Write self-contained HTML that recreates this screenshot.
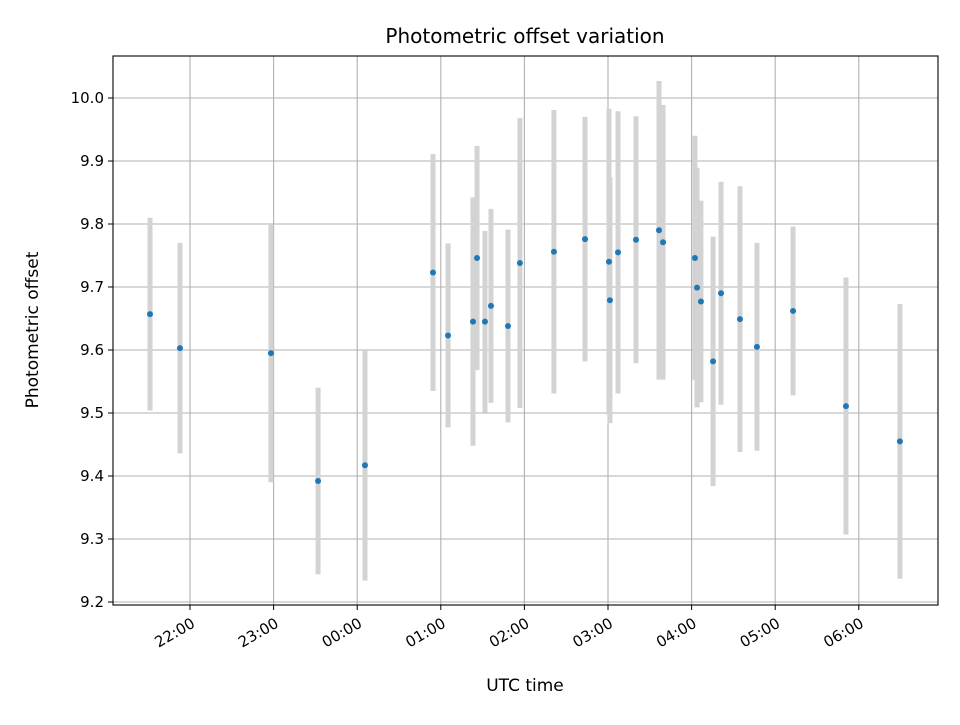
<!DOCTYPE html>
<html><head><meta charset="utf-8"><style>
body{margin:0;background:#fff}
svg{font-family:"DejaVu Sans","Liberation Sans",sans-serif}
</style></head><body>
<svg id="chart" width="960" height="720" xmlns="http://www.w3.org/2000/svg">
<rect width="960" height="720" fill="#fff"/>
<text x="525" y="43" text-anchor="middle" font-size="20">Photometric offset variation</text>
<text x="525" y="691" text-anchor="middle" font-size="17">UTC time</text>
<text transform="translate(38,330) rotate(-90)" text-anchor="middle" font-size="17">Photometric offset</text>
<g id="grid"></g><g id="bars"></g><g id="pts"></g><g id="axes"></g>
</svg>
<script>
// minutes after 22:00 UTC
const times=[-28.7,-7.2,58.1,91.9,125.6,174.4,185.2,203.1,206,211.7,216,228.2,236.8,261.2,283.5,300.7,301.4,307.2,320.1,336.6,339.5,362.4,363.9,366.7,375.4,381.1,394.7,406.9,432.8,470.8,509.5];
const offsets=[9.657,9.603,9.595,9.392,9.417,9.723,9.623,9.645,9.746,9.645,9.670,9.638,9.738,9.756,9.776,9.740,9.679,9.755,9.775,9.790,9.771,9.746,9.699,9.677,9.582,9.690,9.649,9.605,9.662,9.511,9.455];
const errors=[0.153,0.167,0.205,0.148,0.183,0.188,0.146,0.197,0.178,0.144,0.154,0.153,0.23,0.225,0.194,0.243,0.195,0.224,0.196,0.237,0.218,0.194,0.19,0.16,0.198,0.177,0.211,0.165,0.134,0.204,0.218];
const yTicks=[9.2,9.3,9.4,9.5,9.6,9.7,9.8,9.9,10.0];
const xTickMinutes=[0,60,120,180,240,300,360,420,480];
const xTickLabels=["22:00","23:00","00:00","01:00","02:00","03:00","04:00","05:00","06:00"];
const L=113,R=938,T=56,B=605;
const xs=m=>190+m*83.6/60;
const ys=v=>98+(10-v)*630;
const NS="http://www.w3.org/2000/svg";
function mk(tag,attrs,parent){const e=document.createElementNS(NS,tag);for(const k in attrs)e.setAttribute(k,attrs[k]);document.getElementById(parent).appendChild(e);return e;}
yTicks.forEach(v=>{
  const g=mk('line',{x1:L,x2:R,y1:ys(v),y2:ys(v),stroke:'#b0b0b0','stroke-width':1.1},'grid');
  
  
  const t=mk('line',{x1:L-5,x2:L,y1:ys(v),y2:ys(v),stroke:'#000'},'axes');
  
  
  const l=mk('text',{x:L-9,y:ys(v)+5,'text-anchor':'end','font-size':15},'axes');
  l.textContent=v.toFixed(1);
  
  
});
xTickMinutes.forEach((m,i)=>{
  const x=xs(m);
  const g=mk('line',{x1:x,x2:x,y1:T,y2:B,stroke:'#b0b0b0','stroke-width':1.1},'grid');
  
  
  const t=mk('line',{x1:x,x2:x,y1:B,y2:B+5,stroke:'#000'},'axes');
  
  
  const l=mk('text',{transform:`translate(${x+3},${B+16}) rotate(-30)`,'text-anchor':'end','font-size':15,y:6},'axes');
  l.textContent=xTickLabels[i];
  
  
});
times.forEach((m,i)=>{
  const x=xs(m);
  const b=mk('line',{x1:x,x2:x,y1:ys(offsets[i]+errors[i]),y2:ys(offsets[i]-errors[i]),stroke:'#d3d3d3','stroke-width':5},'bars');
  
  
  const p=mk('circle',{cx:x,cy:ys(offsets[i]),r:3,fill:'#1f77b4'},'pts');
  
  
});
const f=mk('rect',{x:L,y:T,width:R-L,height:B-T,fill:'none',stroke:'#000','stroke-width':1.1},'axes');


</script>
</body></html>
